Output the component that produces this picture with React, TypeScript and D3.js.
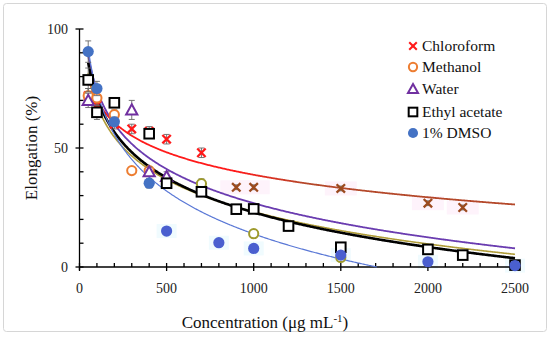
import React from "react";
import * as d3 from "d3";

// ---- data ----
const seriesNames = ["Chloroform", "Methanol", "Water", "Ethyl acetate", "1% DMSO"];

const chloroformX = [50, 100, 200, 300, 400, 500, 700, 900, 1000, 1500, 2000, 2200];
const chloroformY = [72, 68, 60, 58, 57, 53.7, 48, 33.5, 33.5, 33, 26.8, 25];
const chloroformErr = [3, 3, 2, 2, 2, 2, 2, 1, 1, 1, 1, 1];

const methanolX = [50, 100, 200, 300, 400, 700, 1000, 1500];
const methanolY = [72, 71, 64, 40.5, 40.5, 35, 14, 4];
const methanolErr = [3, 3, 2, 1.5, 1.5, 2, 1, 1];

const waterX = [50, 300, 400, 500];
const waterY = [70, 66, 40, 38];
const waterErr = [3, 4, 2, 2];

const ethylX = [50, 100, 200, 400, 500, 700, 900, 1000, 1200, 1500, 2000, 2200, 2500];
const ethylY = [78.6, 65, 69, 56, 35.2, 31.6, 24.3, 24.4, 17.2, 8.3, 7.4, 5, 0.8];
const ethylErr = [5, 3, 2, 2, 2, 1.5, 1, 1, 1, 1, 1, 1, 1];

const dmsoX = [50, 100, 200, 400, 500, 800, 1000, 1500, 2000, 2500];
const dmsoY = [90.5, 75, 61, 35.2, 15.1, 10.2, 7.8, 5, 2.2, 0.6];
const dmsoErr = [4.5, 3, 2, 2, 1, 1, 1, 1, 1, 1];

// logarithmic trendlines y = a - b ln(x)
const trendA = [132.9, 157.9, 169.8, 168, 193.5];
const trendB = [13.63, 19.5, 20.7, 21, 26];

const xTicks = [0, 500, 1000, 1500, 2000, 2500];
const yTicks = [0, 50, 100];

// ---- styles ----
const W = 550, H = 338;
const X0 = 79.5, X1 = 515, Y0 = 267, Y1 = 29;
const FONT = "Liberation Serif, DejaVu Serif, serif";

const seriesData = [
  { x: chloroformX, y: chloroformY, e: chloroformErr },
  { x: methanolX, y: methanolY, e: methanolErr },
  { x: waterX, y: waterY, e: waterErr },
  { x: ethylX, y: ethylY, e: ethylErr },
  { x: dmsoX, y: dmsoY, e: dmsoErr },
];

const markerStyle = [
  { shape: "x", color: "#ff1a1a", late: "#9c4a1e", lateFrom: 900 },
  { shape: "circle", color: "#ed7d31", late: "#9e9a2c", lateFrom: 700 },
  { shape: "tri", color: "#7030a0", late: "#7030a0", lateFrom: 99999 },
  { shape: "square", color: "#000000", late: "#000000", lateFrom: 99999 },
  { shape: "dot", color: "#4472c4", late: "#4a5fcf", lateFrom: 500 },
];
const lineColors = ["url(#redgrad)", "#b09d3a", "#6a3cb0", "#000000", "#5a78d6"];
const lineWidths = [1.8, 1.6, 1.8, 2.6, 1.2];

function Marker({ shape, cx, cy, color, s = 1 }: any) {
  if (shape === "x") {
    const r = 4.2 * s;
    return (
      <g stroke={color} strokeWidth={2.3 * s}>
        <line x1={cx - r} y1={cy - r} x2={cx + r} y2={cy + r} />
        <line x1={cx - r} y1={cy + r} x2={cx + r} y2={cy - r} />
      </g>
    );
  }
  if (shape === "circle")
    return <circle cx={cx} cy={cy} r={4.6 * s} fill="white" stroke={color} strokeWidth={2} />;
  if (shape === "dot") return <circle cx={cx} cy={cy} r={5.6 * s} fill={color} />;
  if (shape === "square") {
    const h = 4.8 * s;
    return <rect x={cx - h} y={cy - h} width={2 * h} height={2 * h} fill="white" stroke={color} strokeWidth={2} />;
  }
  const h = 5.6 * s;
  return (
    <path
      d={`M${cx},${cy - h}L${cx + h},${cy + h * 0.8}L${cx - h},${cy + h * 0.8}Z`}
      fill="white"
      stroke={color}
      strokeWidth={2}
    />
  );
}

export default function App() {
  const x = d3.scaleLinear().domain([0, 2500]).range([X0, X1]);
  const y = d3.scaleLinear().domain([0, 100]).range([Y0, Y1]);

  const minorX = d3.range(0, 2501, 100).filter((v) => v % 500 !== 0);
  const minorY = d3.range(0, 101, 10).filter((v) => v % 50 !== 0);

  const curves = trendA.map((a, i) => {
    const b = trendB[i];
    const xEnd = Math.min(2500, Math.exp(a / b));
    const pts = d3.range(50, xEnd, 5).concat([xEnd]).map((v) => [v, Math.max(0, a - b * Math.log(v))]);
    const gen = d3.line<number[]>().x((d) => x(d[0])).y((d) => y(d[1]));
    return gen(pts) as string;
  });

  const legendY = [46, 67, 89, 112, 133];
  const tf = { fontFamily: FONT };

  return (
    <svg width={W} height={H} style={{ position: "absolute", left: 0, top: 0, background: "white" }}>
      <defs>
        <linearGradient id="redgrad" gradientUnits="userSpaceOnUse" x1={x(900)} y1="0" x2={x(1300)} y2="0">
          <stop offset="0" stopColor="#ff1a1a" />
          <stop offset="1" stopColor="#b4482a" />
        </linearGradient>
      </defs>
      <rect x={3.5} y={3.5} width={543} height={328} rx={3} fill="white" stroke="#d6d6d6" strokeWidth={1} />

      {/* faint halos */}
      {chloroformX.map((v, i) =>
        v >= 900 ? <rect key={"hp" + i} x={x(v) - 16} y={y(chloroformY[i]) - 7} width={32} height={14} fill="#fef3fb" /> : null
      )}
      {dmsoX.map((v, i) =>
        v >= 500 ? <rect key={"hc" + i} x={x(v) - 10} y={y(dmsoY[i]) - 7} width={20} height={14} fill="#f0fbfe" /> : null
      )}

      {/* axes */}
      <g stroke="#000" strokeWidth={1.3}>
        <line x1={X0} y1={Y0} x2={X1} y2={Y0} />
        <line x1={X0} y1={Y0 + 3} x2={X0} y2={Y1} />
        {xTicks.map((t) => (
          <line key={"xt" + t} x1={x(t)} x2={x(t)} y1={Y0 - 4} y2={Y0 + 4} />
        ))}
        {minorX.map((t) => (
          <line key={"xm" + t} x1={x(t)} x2={x(t)} y1={Y0 - 4} y2={Y0} />
        ))}
        {yTicks.map((t) => (
          <line key={"yt" + t} x1={X0 - 4} x2={X0 + 4} y1={y(t)} y2={y(t)} />
        ))}
        {minorY.map((t) => (
          <line key={"ym" + t} x1={X0} x2={X0 + 4} y1={y(t)} y2={y(t)} />
        ))}
      </g>
      {xTicks.map((t) => (
        <text key={"xl" + t} x={x(t)} y={293} textAnchor="middle" fontSize={14} fill="#222" style={tf}>
          {t}
        </text>
      ))}
      {yTicks.map((t) => (
        <text key={"yl" + t} x={68} y={y(t) + 5} textAnchor="end" fontSize={14} fill="#222" style={tf}>
          {t}
        </text>
      ))}
      <text x={265} y={328} textAnchor="middle" fontSize={17} fill="#111" style={tf}>
        Concentration (μg mL<tspan dy={-6} fontSize={11}>-1</tspan>
        <tspan dy={6}>)</tspan>
      </text>
      <text transform="translate(37,148) rotate(-90)" textAnchor="middle" fontSize={17} fill="#111" style={tf}>
        Elongation (%)
      </text>

      {/* trendlines */}
      {curves.map((d, i) => (
        <path key={"c" + i} d={d} fill="none" stroke={lineColors[i]} strokeWidth={lineWidths[i]} />
      ))}

      {/* error bars + markers */}
      {seriesData.map((s, si) => (
        <g key={"s" + si}>
          {s.x.map((v, i) => {
            const cx = x(v);
            const top = y(s.y[i] + s.e[i]);
            const bot = y(Math.max(0, s.y[i] - s.e[i]));
            return (
              <g key={"e" + i} stroke="#666" strokeWidth={0.9}>
                <line x1={cx} x2={cx} y1={top} y2={bot} />
                <line x1={cx - 3} x2={cx + 3} y1={top} y2={top} />
                <line x1={cx - 3} x2={cx + 3} y1={bot} y2={bot} />
              </g>
            );
          })}
          {s.x.map((v, i) => {
            const st = markerStyle[si];
            const col = v >= st.lateFrom ? st.late : st.color;
            return <Marker key={"m" + i} shape={st.shape} cx={x(v)} cy={y(s.y[i])} color={col} />;
          })}
        </g>
      ))}

      {/* legend */}
      {seriesNames.map((n, i) => (
        <g key={"lg" + i}>
          <Marker shape={markerStyle[i].shape} cx={413} cy={legendY[i]} color={markerStyle[i].color} s={0.9} />
          <text x={422} y={legendY[i] + 5} fontSize={15.5} fill="#111" style={tf}>
            {n}
          </text>
        </g>
      ))}
    </svg>
  );
}
